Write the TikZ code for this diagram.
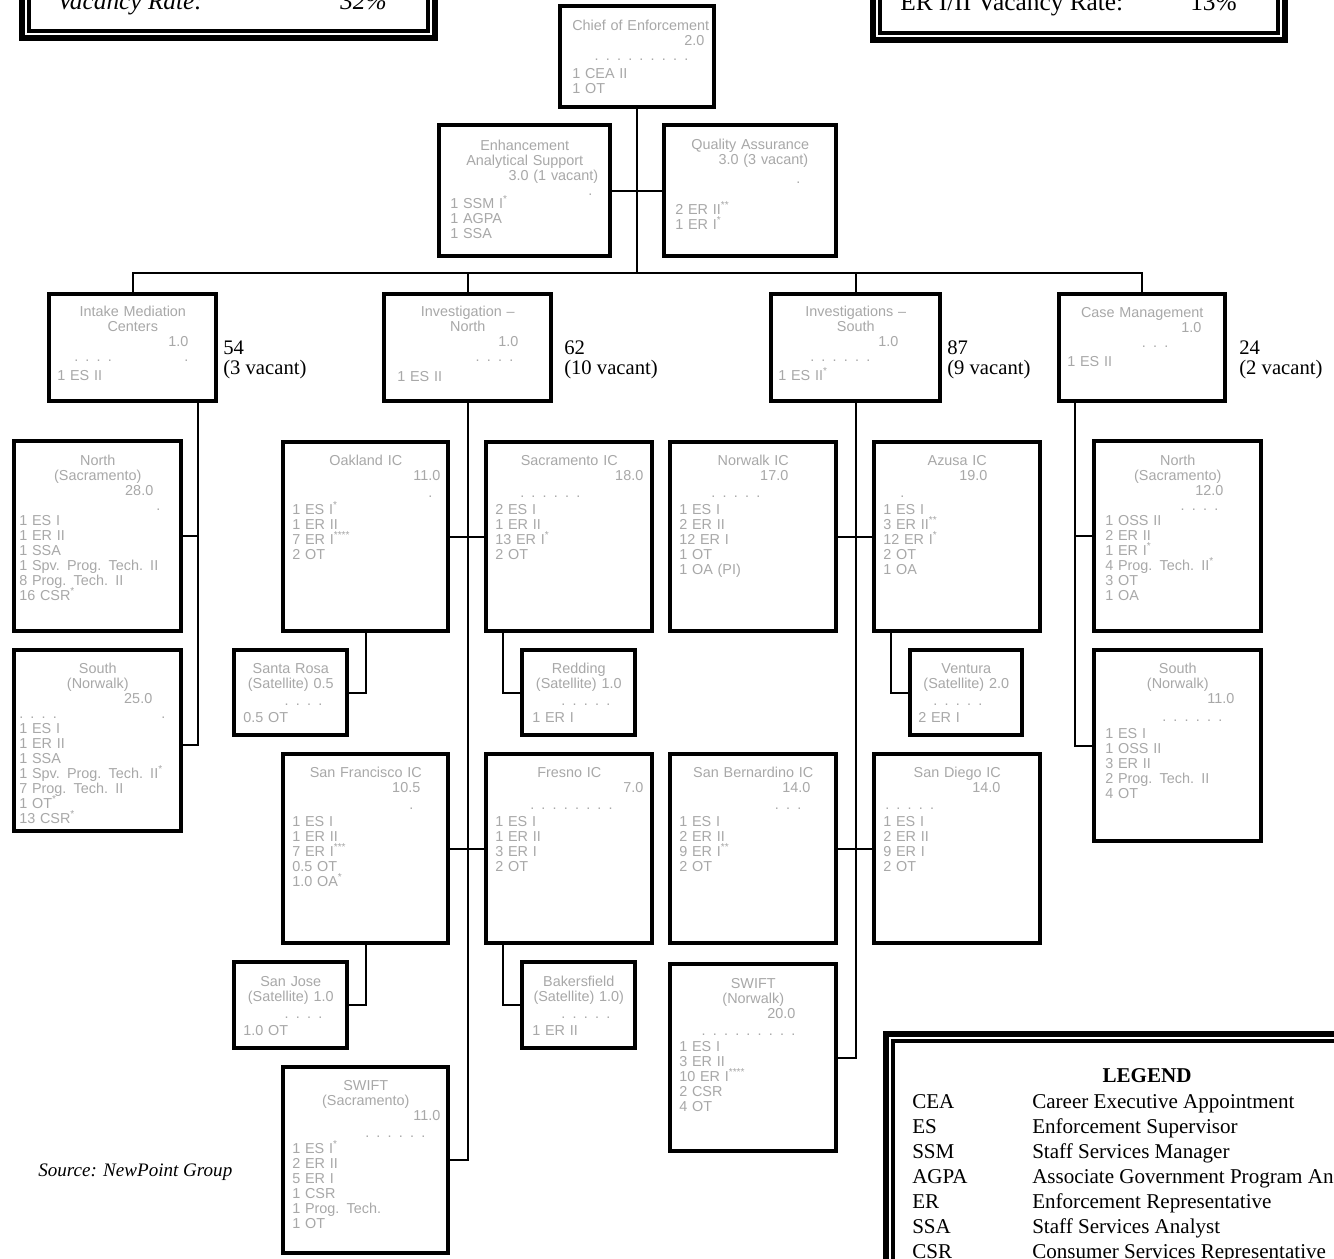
\documentclass[tikz,border=0pt]{standalone}
\usepackage{fontspec}
\setmainfont{Liberation Serif}
\newfontfamily\boxfont{Liberation Sans}
\definecolor{tgray}{RGB}{168,168,168}
\newcommand\PX[1]{\dimexpr #1pt*3/4\relax}
\newcommand\Lc[1]{\hbox to\linewidth{\hfil#1\hfil}}
\newcommand\Lr[2]{\hbox to\linewidth{\hfil#2\hskip\PX{#1}}}
\newcommand\Ll[1]{\hbox to\linewidth{#1\hfil}}
\newcommand\Lx[1]{\hbox to\linewidth{#1}}
\newcommand\Gap[1]{\kern\PX{#1}}
\newcommand\Sup[1]{\textsuperscript{#1}}
\tikzset{
  orgbox/.style={draw, line width=3pt, inner sep=0pt, fill=white},
  bodytxt/.style={inner sep=0pt, anchor=base west, text=tgray,
    font={\boxfont\fontsize{10.8}{11.25}\selectfont}},
  conn/.style={line width=1.5pt},
  lbl/.style={inner sep=0pt, anchor=base west, font={\fontsize{15.5}{18}\selectfont}},
  legtxt/.style={inner sep=0pt, anchor=base west, font={\fontsize{15.8}{18}\selectfont}},
  toptxt/.style={inner sep=0pt, anchor=base west, font={\fontsize{19}{22}\selectfont}},
}
\newcommand\obox[5]{%
  \pgfmathsetmacro\bxX{(#2+#4)/2}\pgfmathsetmacro\bxY{(#3+#5)/2}%
  \pgfmathsetmacro\bxW{(#4-#2-4)*0.75}\pgfmathsetmacro\bxH{(#5-#3-4)*0.75}%
  \node[orgbox, minimum width=\bxW pt, minimum height=\bxH pt] (#1) at (\bxX,\bxY) {};}
\newcommand\obody[6]{%
  \pgfmathsetmacro\bxT{(#3-#2-2*#4)*0.75}%
  \node[bodytxt, text width=\bxT pt] (#1) at (#2+#4,#5) {\vtop{\hsize=\linewidth\lineskiplimit=-30pt\baselineskip=11.25pt #6}};}
\newcommand\frm[4]{%
  \draw[line width=4.5pt] (#1+3,#2+3) rectangle (#3-3,#4-3);
  \draw[line width=3pt] (#1+10,#2+10) rectangle (#3-10,#4-10);}
\begin{document}
\begin{tikzpicture}[x=0.75pt,y=-0.75pt]
\useasboundingbox (0,0) rectangle (1334,1258);
\clip (0,0) rectangle (1334,1258);

% ---- framed boxes ----
\frm{19}{-80}{438}{41}
\node[toptxt, font={\fontsize{19}{22}\selectfont\itshape}] (vr) at (57,9) {Vacancy Rate:};
\node[toptxt, font={\fontsize{19}{22}\selectfont\itshape}] (vrp) at (340,9) {32\%};
\frm{870}{-80}{1288}{43}
\node[toptxt] (er) at (900,10) {ER I/II Vacancy Rate:};
\node[toptxt] (erp) at (1190,10) {13\%};

% ---- boxes ----
\obox{chief}{558}{4}{716}{109}
\obody{chief-t}{558}{716}{14}{30}{\Lc{Chief of Enforcement}\Lr{-2}{2.0}\Lr{14}{. . . . . . . . .}\Gap{3}\Ll{1 CEA II}\Ll{1 OT}}

\obox{enh}{437}{123}{612}{258}
\obody{enh-t}{437}{612}{13}{150}{\Lc{Enhancement}\Lc{Analytical Support}\Lr{1}{3.0 (1 vacant)}\Lr{7}{.}\Gap{-2}\Ll{1 SSM I\Sup{*}}\Ll{1 AGPA}\Ll{1 SSA}}

\obox{qa}{662}{123}{838}{258}
\obody{qa-t}{662}{838}{13}{149}{\Lc{Quality Assurance}\Lr{17}{3.0 (3 vacant)}\Gap{4}\Lr{25}{.}\Gap{16}\Ll{2 ER II\Sup{**}}\Ll{1 ER I\Sup{*}}}

\obox{intake}{47}{292}{218}{403}
\obody{intake-t}{47}{218}{10}{316}{\Lc{Intake Mediation}\Lc{Centers}\Lr{20}{1.0}\Lx{\hskip\PX{17}. . . .\hfil.\hskip\PX{20}}\Gap{4}\Ll{1 ES II}}

\obox{invn}{382}{292}{553}{403}
\obody{invn-t}{382}{553}{15}{316}{\Lc{Investigation –}\Lc{North}\Lr{20}{1.0}\Lr{25}{. . . .}\Gap{5}\Ll{1 ES II}}

\obox{invs}{769}{292}{942}{403}
\obody{invs-t}{769}{942}{9}{316}{\Lc{Investigations –}\Lc{South}\Lr{35}{1.0}\Lr{63}{. . . . . .}\Gap{4}\Ll{1 ES II\Sup{*}}}

\obox{casem}{1057}{292}{1227}{403}
\obody{casem-t}{1057}{1227}{10}{317}{\Lc{Case Management}\Lr{16}{1.0}\Lr{49}{. . .}\Gap{4}\Ll{1 ES II}}

\obox{inorth}{12}{439}{183}{633}
\obody{inorth-t}{12}{183}{7}{465}{\Lc{North}\Lc{(Sacramento)}\Lr{23}{28.0}\Lr{16}{.}\Ll{1 ES I}\Ll{1 ER II}\Ll{1 SSA}\Ll{1 Spv. Prog. Tech. II}\Ll{8 Prog. Tech. II}\Ll{16 CSR\Sup{*}}}

\obox{isouth}{12}{648}{183}{833}
\obody{isouth-t}{12}{183}{7}{673}{\Lc{South}\Lc{(Norwalk)}\Lr{24}{25.0}\Lx{. . . .\hfil.\hskip\PX{11}}\Ll{1 ES I}\Ll{1 ER II}\Ll{1 SSA}\Ll{1 Spv. Prog. Tech. II\Sup{*}}\Ll{7 Prog. Tech. II}\Ll{1 OT\Sup{*}}\Ll{13 CSR\Sup{*}}}

\obox{oak}{281}{440}{450}{633}
\obody{oak-t}{281}{450}{11}{465}{\Lc{Oakland IC}\Lr{-1}{11.0}\Gap{2}\Lr{7}{.}\Gap{2}\Ll{1 ES I\Sup{*}}\Ll{1 ER II}\Ll{7 ER I\Sup{****}}\Ll{2 OT}}

\obox{sacic}{484}{440}{654}{633}
\obody{sacic-t}{484}{654}{11}{465}{\Lc{Sacramento IC}\Lr{0}{18.0}\Gap{2}\Lr{63}{. . . . . .}\Gap{2}\Ll{2 ES I}\Ll{1 ER II}\Ll{13 ER I\Sup{*}}\Ll{2 OT}}

\obox{srosa}{232}{648}{349}{737}
\obody{srosa-t}{232}{349}{11}{673}{\Lc{Santa Rosa}\Lc{(Satellite) 0.5}\Gap{2}\Lr{16}{. . . .}\Gap{2}\Ll{0.5 OT}}

\obox{redd}{520}{648}{637}{737}
\obody{redd-t}{520}{637}{12}{673}{\Lc{Redding}\Lc{(Satellite) 1.0}\Gap{2}\Lr{15}{. . . . .}\Gap{2}\Ll{1 ER I}}

\obox{sf}{281}{752}{450}{945}
\obody{sf-t}{281}{450}{11}{777}{\Lc{San Francisco IC}\Lr{19}{10.5}\Gap{2}\Lr{26}{.}\Gap{2}\Ll{1 ES I}\Ll{1 ER II}\Ll{7 ER I\Sup{***}}\Ll{0.5 OT}\Ll{1.0 OA\Sup{*}}}

\obox{fres}{484}{752}{654}{945}
\obody{fres-t}{484}{654}{11}{777}{\Lc{Fresno IC}\Lr{0}{7.0}\Gap{2}\Ll{\hskip\PX{35}. . . . . . . .}\Gap{2}\Ll{1 ES I}\Ll{1 ER II}\Ll{3 ER I}\Ll{2 OT}}

\obox{sjose}{232}{960}{349}{1050}
\obody{sjose-t}{232}{349}{11}{986}{\Lc{San Jose}\Lc{(Satellite) 1.0}\Gap{2}\Lr{16}{. . . .}\Gap{2}\Ll{1.0 OT}}

\obox{bak}{520}{960}{637}{1050}
\obody{bak-t}{520}{637}{12}{986}{\Lc{Bakersfield}\Lc{(Satellite) 1.0)}\Gap{2}\Lr{15}{. . . . .}\Gap{2}\Ll{1 ER II}}

\obox{swsac}{281}{1065}{450}{1255}
\obody{swsac-t}{281}{450}{11}{1090}{\Lc{SWIFT}\Lc{(Sacramento)}\Lr{-1}{11.0}\Gap{2}\Lr{14}{. . . . . .}\Gap{1}\Ll{1 ES I\Sup{*}}\Ll{2 ER II}\Ll{5 ER I}\Ll{1 CSR}\Ll{1 Prog. Tech.}\Ll{1 OT}}

\obox{norw}{668}{440}{838}{633}
\obody{norw-t}{668}{838}{11}{465}{\Lc{Norwalk IC}\Lr{39}{17.0}\Gap{2}\Lr{67}{. . . . .}\Gap{2}\Ll{1 ES I}\Ll{2 ER II}\Ll{12 ER I}\Ll{1 OT}\Ll{1 OA (PI)}}

\obox{azusa}{872}{440}{1042}{633}
\obody{azusa-t}{872}{1042}{11}{465}{\Lc{Azusa IC}\Lr{44}{19.0}\Gap{2}\Ll{\hskip\PX{17}.}\Gap{2}\Ll{1 ES I}\Ll{3 ER II\Sup{**}}\Ll{12 ER I\Sup{*}}\Ll{2 OT}\Ll{1 OA}}

\obox{vent}{908}{648}{1024}{737}
\obody{vent-t}{908}{1024}{10}{673}{\Lc{Ventura}\Lc{(Satellite) 2.0}\Gap{2}\Lr{32}{. . . . .}\Gap{2}\Ll{2 ER I}}

\obox{sanb}{668}{752}{838}{945}
\obody{sanb-t}{668}{838}{11}{777}{\Lc{San Bernardino IC}\Lr{17}{14.0}\Gap{2}\Lr{26}{. . .}\Gap{2}\Ll{1 ES I}\Ll{2 ER II}\Ll{9 ER I\Sup{**}}\Ll{2 OT}}

\obox{sand}{872}{752}{1042}{945}
\obody{sand-t}{872}{1042}{11}{777}{\Lc{San Diego IC}\Lr{31}{14.0}\Gap{2}\Ll{\hskip\PX{2}. . . . .}\Gap{2}\Ll{1 ES I}\Ll{2 ER II}\Ll{9 ER I}\Ll{2 OT}}

\obox{swnor}{668}{962}{838}{1153}
\obody{swnor-t}{668}{838}{11}{988}{\Lc{SWIFT}\Lc{(Norwalk)}\Lr{32}{20.0}\Gap{2}\Lr{32}{. . . . . . . . .}\Gap{1}\Ll{1 ES I}\Ll{3 ER II}\Ll{10 ER I\Sup{****}}\Ll{2 CSR}\Ll{4 OT}}

\obox{cnorth}{1092}{439}{1263}{633}
\obody{cnorth-t}{1092}{1263}{13}{465}{\Lc{North}\Lc{(Sacramento)}\Lr{27}{12.0}\Lr{32}{. . . .}\Ll{1 OSS II}\Ll{2 ER II}\Ll{1 ER I\Sup{*}}\Ll{4 Prog. Tech. II\Sup{*}}\Ll{3 OT}\Ll{1 OA}}

\obox{csouth}{1092}{648}{1263}{843}
\obody{csouth-t}{1092}{1263}{13}{673}{\Lc{South}\Lc{(Norwalk)}\Lr{16}{11.0}\Gap{3}\Lr{28}{. . . . . .}\Gap{2}\Ll{1 ES I}\Ll{1 OSS II}\Ll{3 ER II}\Ll{2 Prog. Tech. II}\Ll{4 OT}}

% ---- headcount labels ----
\node[lbl] (n54) at (223,354) {54};
\node[lbl] (v54) at (223,374) {(3 vacant)};
\node[lbl] (n62) at (564,354) {62};
\node[lbl] (v62) at (564,374) {(10 vacant)};
\node[lbl] (n87) at (947,354) {87};
\node[lbl] (v87) at (947,374) {(9 vacant)};
\node[lbl] (n24) at (1239,354) {24};
\node[lbl] (v24) at (1239,374) {(2 vacant)};

% ---- connectors ----
\coordinate (bus) at (637,273);
\draw[conn] (chief.south) -- (bus);
\draw[conn] (enh.east) -- (qa.west);
\draw[conn] (intake.north) |- (bus) -| (casem.north);
\draw[conn] (invn.north) -- (invn.north |- bus);
\draw[conn] (invs.north) -- (invs.north |- bus);

\coordinate (ia) at ([xshift=113.25pt]intake.south west);
\draw[conn] (ia) |- ([yshift=-3.375pt]isouth.east);
\draw[conn] (inorth.east) -- (inorth.east -| ia);

\draw[conn] (invn.south) |- (swsac.east);
\draw[conn] (oak.east) -- (sacic.west);
\draw[conn] (sf.east) -- (fres.west);
\draw[conn] (oak.south) |- (srosa.east);
\draw[conn] ([xshift=14.25pt]sacic.south west) |- (redd.west);
\draw[conn] (sf.south) |- (sjose.east);
\draw[conn] ([xshift=14.25pt]fres.south west) |- (bak.west);

\draw[conn] (invs.south) |- (swnor.east);
\draw[conn] (norw.east) -- (azusa.west);
\draw[conn] (sanb.east) -- (sand.west);
\draw[conn] ([xshift=14.25pt]azusa.south west) |- (vent.west);

\coordinate (ca) at ([xshift=13.5pt]casem.south west);
\draw[conn] (ca) |- (csouth.west);
\draw[conn] (cnorth.west) -- (cnorth.west -| ca);

% ---- source ----
\node[inner sep=0pt, anchor=base west, font={\fontsize{14.3}{16}\selectfont\itshape}] (src) at (38,1176) {Source: NewPoint Group};

% ---- legend ----
\frm{883}{1031}{1420}{1340}
\node[inner sep=0pt, anchor=base, font={\fontsize{15.8}{18}\selectfont\bfseries}] (legt) at (1147,1082) {LEGEND};
\foreach \a/\d [count=\i] in {CEA/Career Executive Appointment, ES/Enforcement Supervisor, SSM/Staff Services Manager, AGPA/Associate Government Program Analyst, ER/Enforcement Representative, SSA/Staff Services Analyst, CSR/Consumer Services Representative}{
  \node[legtxt] (la\i) at (912,{1083+25*\i}) {\a};
  \node[legtxt] (ld\i) at (1032,{1083+25*\i}) {\d};
}
\end{tikzpicture}
\end{document}
